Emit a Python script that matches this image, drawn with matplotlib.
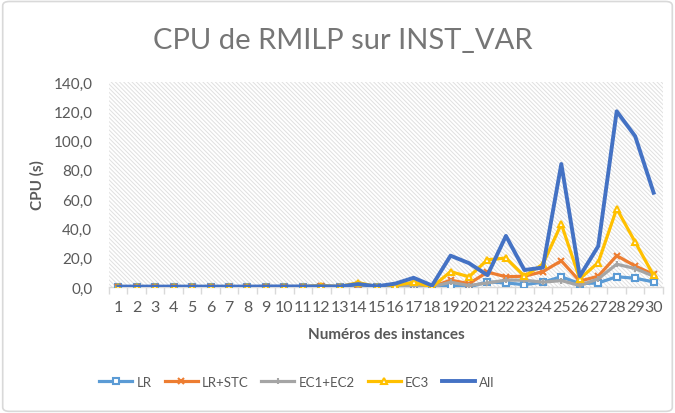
import numpy as np
import matplotlib
matplotlib.use("Agg")
import matplotlib.pyplot as plt
from matplotlib.patches import Rectangle, FancyBboxPatch

plt.rcParams['font.family'] = ['Lato', 'DejaVu Sans']
plt.rcParams['hatch.linewidth'] = 0.7

instances = [str(i) for i in range(1, 31)]

lr = [0.2, 0.2, 0.2, 0.2, 0.2, 0.2, 0.2, 0.2, 0.2, 0.2, 0.2, 0.3, 0.2, 1.0, 0.2,
      0.3, 0.5, 0.1, 1.0, 0.0, 3.5, 2.8, 1.6, 3.3, 7.0, 2.3, 2.8, 7.0, 6.0, 3.5]
lr_stc = [0.2, 0.2, 0.2, 0.2, 0.2, 0.2, 0.2, 0.2, 0.3, 0.3, 0.3, 0.4, 0.3, 1.5, 0.3,
          0.5, 2.0, 0.1, 4.7, 2.3, 10.2, 7.0, 7.4, 10.5, 17.9, 4.0, 7.4, 21.4, 14.4, 8.6]
ec1_ec2 = [0.2, 0.2, 0.2, 0.2, 0.2, 0.2, 0.2, 0.2, 0.2, 0.2, 0.2, 0.3, 0.2, 1.0, 0.2,
           0.3, 1.0, 0.1, 3.3, 1.0, 2.8, 4.7, 4.7, 3.3, 4.4, 1.0, 5.6, 15.6, 12.6, 7.4]
ec3 = [0.3, 0.3, 0.3, 0.3, 0.3, 0.3, 0.3, 0.3, 0.3, 0.3, 0.3, 1.0, 0.3, 3.0, 0.3,
       1.0, 3.3, 0.0, 10.5, 7.0, 18.6, 19.8, 7.4, 15.6, 43.0, 5.6, 16.7, 53.5, 30.7, 7.9]
all_ = [0.3, 0.3, 0.3, 0.3, 0.3, 0.3, 0.3, 0.3, 0.4, 0.4, 0.4, 0.5, 0.4, 2.0, 0.5,
        2.3, 6.3, 1.0, 21.4, 16.3, 8.1, 34.9, 11.6, 13.3, 84.0, 7.4, 27.9, 120.0, 103.0, 64.4]

fig = plt.figure(figsize=(6.75, 4.14), dpi=100)
fig.patches.append(FancyBboxPatch((0.004, 0.004), 0.992, 0.99, boxstyle="round,pad=0,rounding_size=0.01",
                                  transform=fig.transFigure, facecolor='white', edgecolor='#d9d9d9',
                                  lw=1.2, zorder=-10))
ax = fig.add_axes([0.1615, 0.3043, 0.8205, 0.4952])
ax.set_facecolor('none')

x = np.arange(1, 31)
ax.add_patch(Rectangle((0, 0), 1, 1, transform=ax.transAxes, facecolor='white',
                       edgecolor='#e0e0e0', hatch='\\' * 8, lw=0, zorder=0))

lw = 2.3
ax.plot(x, lr, color='#5B9BD5', lw=lw, marker='s', ms=5, mfc='white', mec='#5B9BD5', mew=1.5, label='LR', zorder=3)
ax.plot(x, lr_stc, color='#ED7D31', lw=lw, marker='x', ms=5, mew=1.5, label='LR+STC', zorder=3)
ax.plot(x, ec1_ec2, color='#A5A5A5', lw=lw, marker='|', ms=4, mew=1.5, label='EC1+EC2', zorder=3)
ax.plot(x, ec3, color='#FFC000', lw=lw, marker='^', ms=5, mfc='white', mec='#FFC000', mew=1.5, label='EC3', zorder=3)
ax.plot(x, all_, color='#4472C4', lw=lw + 0.5, label='All', zorder=4)

ax.set_xlim(0.5, 30.5)
ax.set_ylim(0, 140)
ax.set_yticks(np.arange(0, 141, 20))
ax.set_yticklabels([f"{v:.1f}".replace('.', ',') for v in range(0, 141, 20)])
ax.set_xticks(x)
ax.set_xticklabels(instances)
ax.set_xticks(np.arange(0.5, 31, 1), minor=True)
ax.tick_params(axis='x', which='major', length=0, pad=9, labelsize=11.5, colors='#595959')
ax.tick_params(axis='x', which='minor', length=5, color='#d9d9d9', width=1)
ax.tick_params(axis='y', length=0, pad=12, labelsize=11, colors='#595959')

for s in ['top', 'right', 'left']:
    ax.spines[s].set_visible(False)
ax.spines['bottom'].set_color('#d9d9d9')
ax.spines['bottom'].set_linewidth(1)

ax.set_ylabel('CPU (s)', fontsize=11, fontweight='bold', color='#595959', labelpad=6)
ax.set_xlabel('Numéros des instances', fontsize=11, fontweight='bold', color='#595959', labelpad=10)
fig.text(0.508, 0.9, 'CPU de RMILP sur INST_VAR', ha='center', va='center', fontsize=21, color='#767676')

fig.legend(loc='center', bbox_to_anchor=(0.44, 0.075), ncol=5, frameon=False, fontsize=9.5,
           labelcolor='#595959', handlelength=2.5, columnspacing=1.0, handletextpad=0.3)

fig.savefig('out.png', dpi=100)
